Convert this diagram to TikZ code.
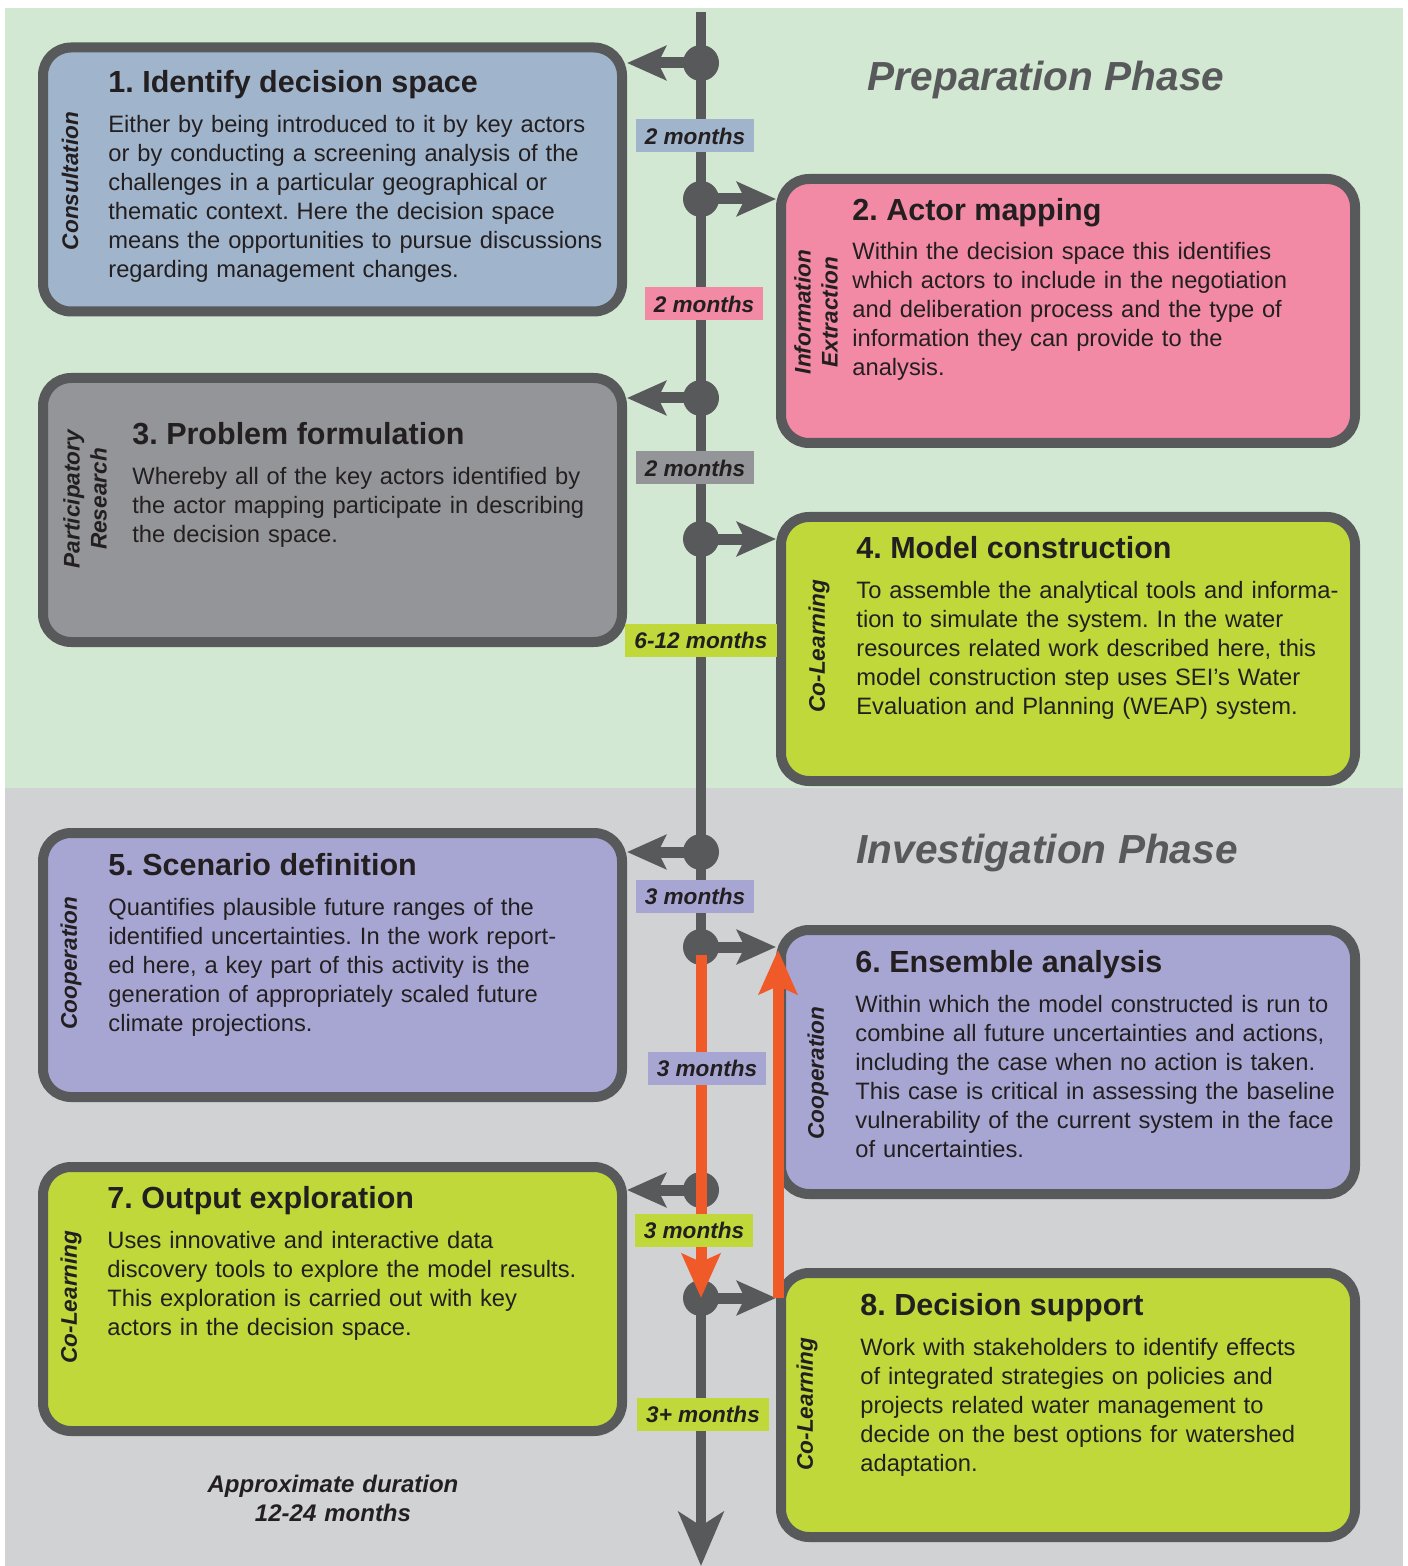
\documentclass[tikz,border=0pt]{standalone}
\usepackage{fontspec}
\setmainfont{Liberation Sans}
\usetikzlibrary{arrows.meta, positioning}
\definecolor{prepgreen}{RGB}{211,232,210}
\definecolor{invgray}{RGB}{209,210,212}
\definecolor{linegray}{RGB}{88,89,91}
\definecolor{consblue}{RGB}{160,180,203}
\definecolor{actorpink}{RGB}{242,138,165}
\definecolor{probgray}{RGB}{147,149,152}
\definecolor{colime}{RGB}{192,216,58}
\definecolor{coopviolet}{RGB}{167,166,211}
\definecolor{loopred}{RGB}{240,90,40}
\definecolor{inkdark}{RGB}{35,31,32}
\frenchspacing

\tikzset{
  stepbox/.style={draw=linegray, line width=5pt, rounded corners=14pt,
    minimum height=132pt, inner sep=0pt},
  leftbox/.style={stepbox, minimum width=289.5pt},
  rightbox/.style={stepbox, minimum width=287pt},
  steptitle/.style={anchor=base west, inner sep=0pt, text=inkdark,
    font=\fontsize{15.25}{18}\selectfont\bfseries},
  stepbody/.style={anchor=base west, inner sep=0pt, text=inkdark,
    text width=270pt, align=left, font=\fontsize{11.85}{14.5}\selectfont},
  sidelabel/.style={rotate=90, inner sep=0pt, text=inkdark, align=center,
    font=\fontsize{11.3}{13.5}\selectfont\bfseries\itshape},
  tldot/.style={circle, fill=linegray, minimum size=18pt, inner sep=0pt},
  durtag/.style={inner xsep=4.5pt, inner ysep=0pt, minimum height=16.5pt,
    text=inkdark, font=\fontsize{11.3}{13}\selectfont\bfseries\itshape},
  feedarrow/.style={-{Stealth[length=19.5pt, width=17pt, inset=4pt]},
    linegray, line width=5.5pt},
  looparrow/.style={-{Stealth[length=22pt, width=19pt, inset=4pt]},
    loopred, line width=5.5pt},
  phasetitle/.style={anchor=base, inner sep=0pt, text=linegray,
    font=\fontsize{20.3}{24}\selectfont\bfseries\itshape}
}

\begin{document}
\begin{tikzpicture}[x=0.5pt, y=-0.5pt]
  \useasboundingbox (0,0) rectangle (1407,1566);

  % Phase backgrounds
  \fill[prepgreen] (5,8) rectangle (1403,788);
  \fill[invgray] (5,788) rectangle (1403,1566);

  % Time line
  \coordinate (tltop) at (701,12);
  \coordinate (tlend) at (701,1566);
  \draw[-{Stealth[length=27pt, width=22.5pt, inset=7pt]}, linegray, line width=5pt]
    (tltop) -- (tlend);

  % Steps
  \node[leftbox, fill=consblue] (b1) at (332.5,179.5) {};
  \node[rightbox, fill=actorpink] (b2) at (1068,311) {};
  \node[leftbox, fill=probgray] (b3) at (332.5,510) {};
  \node[rightbox, fill=colime] (b4) at (1068,649) {};
  \node[leftbox, fill=coopviolet] (b5) at (332.5,965) {};
  \node[rightbox, fill=coopviolet] (b6) at (1068,1062) {};
  \node[leftbox, fill=colime] (b7) at (332.5,1299) {};
  \node[rightbox, fill=colime] (b8) at (1068,1405) {};

  % Branches off the time line
  \node[tldot] (d1) at (701,63) {};
  \node[tldot] (d2) at (701,199) {};
  \node[tldot] (d3) at (701,398) {};
  \node[tldot] (d4) at (701,539) {};
  \node[tldot] (d5) at (701,852) {};
  \node[tldot] (d6) at (701,947) {};
  \node[tldot] (d7) at (701,1190) {};
  \node[tldot] (d8) at (701,1298) {};
  \draw[feedarrow] (d1.center) -- (d1 -| b1.east);
  \draw[feedarrow] (d2.center) -- (d2 -| b2.west);
  \draw[feedarrow] (d3.center) -- (d3 -| b3.east);
  \draw[feedarrow] (d4.center) -- (d4 -| b4.west);
  \draw[feedarrow] (d5.center) -- (d5 -| b5.east);
  \draw[feedarrow] (d6.center) -- (d6 -| b6.west);
  \draw[feedarrow] (d7.center) -- (d7 -| b7.east);
  \draw[feedarrow] (d8.center) -- (d8 -| b8.west);

  % Durations
  \node[durtag, fill=consblue] (m1) at (695,136) {2 months};
  \node[durtag, fill=actorpink] (m2) at (704,304) {2 months};
  \node[durtag, fill=probgray] (m3) at (695,468) {2 months};
  \node[durtag, fill=colime] (m4) at (701,640) {6-12 months};
  \node[durtag, fill=coopviolet] (m5) at (695,896) {3 months};

  % Iteration loop
  \draw[looparrow] ([yshift=-4pt]d6.center) -- (d8.center);
  \draw[looparrow] ([xshift=1pt]d8 -| b8.west) -- ([xshift=1pt,yshift=-1.5pt]d6 -| b6.west);

  \node[durtag, fill=coopviolet] (m6) at (707,1068) {3 months};
  \node[durtag, fill=colime] (m7) at (694,1230) {3 months};
  \node[durtag, fill=colime] (m8) at (703,1414) {3+ months};

  % Texts
  \node[steptitle] (t1) at (108,93) {1. Identify decision space};
  \node[stepbody] (x1) at (108,133) {Either by being introduced to it by key actors\\
    or by conducting a screening analysis of the\\
    challenges in a particular geographical or\\
    thematic context. Here the decision space\\
    means the opportunities to pursue discussions\\
    regarding management changes.};
  \node[sidelabel] (s1) at (70,181) {Consultation};

  \node[steptitle] (t2) at (852,221) {2. Actor mapping};
  \node[stepbody] (x2) at (852,260) {Within the decision space this identifies\\
    which actors to include in the negotiation\\
    and deliberation process and the type of\\
    information they can provide to the\\
    analysis.};
  \node[sidelabel] (s2) at (816,312) {Information\\Extraction};

  \node[steptitle] (t3) at (132,445) {3. Problem formulation};
  \node[stepbody] (x3) at (132,485) {Whereby all of the key actors identified by\\
    the actor mapping participate in describing\\
    the decision space.};
  \node[sidelabel] (s3) at (85,499) {Participatory\\Research};

  \node[steptitle] (t4) at (856,558) {4. Model construction};
  \node[stepbody] (x4) at (856,598) {To assemble the analytical tools and informa-\\
    tion to simulate the system. In the water\\
    resources related work described here, this\\
    model construction step uses SEI’s Water\\
    Evaluation and Planning (WEAP) system.};
  \node[sidelabel] (s4) at (819,646) {Co-Learning};

  \node[steptitle] (t5) at (108,875) {5. Scenario definition};
  \node[stepbody] (x5) at (108,915) {Quantifies plausible future ranges of the\\
    identified uncertainties. In the work report-\\
    ed here, a key part of this activity is the\\
    generation of appropriately scaled future\\
    climate projections.};
  \node[sidelabel] (s5) at (71,963) {Cooperation};

  \node[steptitle] (t6) at (855,972) {6. Ensemble analysis};
  \node[stepbody] (x6) at (855,1012) {Within which the model constructed is run to\\
    combine all future uncertainties and actions,\\
    including the case when no action is taken.\\
    This case is critical in assessing the baseline\\
    vulnerability of the current system in the face\\
    of uncertainties.};
  \node[sidelabel] (s6) at (818,1073) {Cooperation};

  \node[steptitle] (t7) at (107,1208) {7. Output exploration};
  \node[stepbody] (x7) at (107,1248) {Uses innovative and interactive data\\
    discovery tools to explore the model results.\\
    This exploration is carried out with key\\
    actors in the decision space.};
  \node[sidelabel] (s7) at (71,1297) {Co-Learning};

  \node[steptitle] (t8) at (860,1315) {8. Decision support};
  \node[stepbody] (x8) at (860,1355) {Work with stakeholders to identify effects\\
    of integrated strategies on policies and\\
    projects related water management to\\
    decide on the best options for watershed\\
    adaptation.};
  \node[sidelabel] (s8) at (807,1404) {Co-Learning};

  % Phases
  \node[phasetitle] (prep) at (1046,91) {Preparation Phase};
  \node[phasetitle] (inv) at (1047,863) {Investigation Phase};
  \node[anchor=base, inner sep=0pt, text=inkdark, text width=160pt, align=center,
    font=\fontsize{12}{14.5}\selectfont\bfseries\itshape] (total) at (333,1492)
    {Approximate duration\\12-24 months};
\end{tikzpicture}
\end{document}
